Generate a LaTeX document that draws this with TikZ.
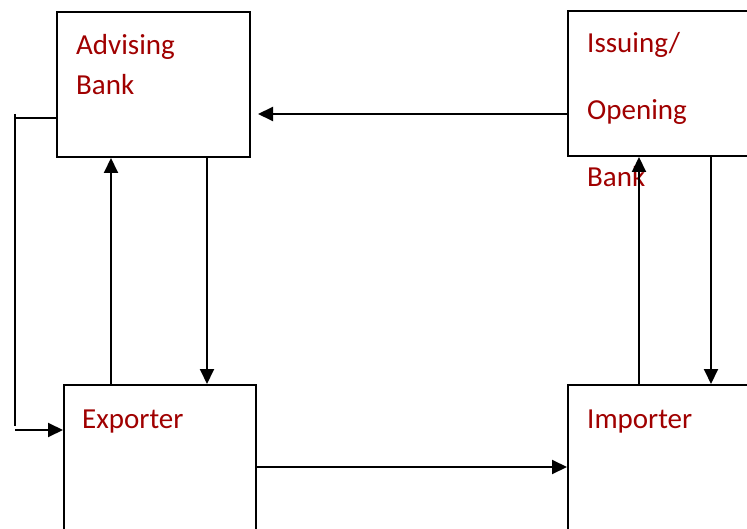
\documentclass[tikz,border=0pt]{standalone}
\usepackage{fontspec}
\setmainfont{Carlito}
\usetikzlibrary{arrows.meta}
\definecolor{lbl}{RGB}{160,0,0}
\begin{document}
\begin{tikzpicture}[x=1pt,y=-1pt,
  box/.style={draw=black,line width=2pt,inner sep=0pt,anchor=north west,fill=none},
  lab/.style={text=lbl,anchor=base west,inner sep=0pt,font=\fontsize{29}{40}\selectfont},
  arr/.style={draw=black,line width=2pt,-{Triangle[length=15pt,width=14pt]}},
  ln/.style={draw=black,line width=2pt}]
\clip (0,0) rectangle (747,529);
\fill[white] (0,0) rectangle (747,529);
\node[box,minimum width=193pt,minimum height=145pt] (adv) at (56,11) {};
\node[box,minimum width=200pt,minimum height=145pt] (iss) at (567,10) {};
\node[box,minimum width=192pt,minimum height=200pt] (exp) at (63,384) {};
\node[box,minimum width=200pt,minimum height=200pt] (imp) at (567,384) {};
\node[lab] (t1) at (76,55) {Advising};
\node[lab] (t2) at (76,95) {Bank};
\node[lab] (t3) at (587,53) {Issuing/};
\node[lab] (t4) at (587,120) {Opening};
\node[lab] (t5) at (587,187) {Bank};
\node[lab] (t6) at (82,428) {Exporter};
\node[lab] (t7) at (587,428) {Importer};
% connectors
\draw[arr,shorten >=7pt] (iss.west |- 0,114) -- (adv.east |- 0,114);
\draw[arr] (adv.south -| 207,0) -- (exp.north -| 207,0);
\draw[arr] (exp.north -| 111,0) -- (adv.south -| 111,0);
\draw[arr] (exp.east |- 0,467) -- (imp.west |- 0,467);
\draw[arr] (imp.north -| 639,0) -- (iss.south -| 639,0);
\draw[arr] (iss.south -| 711,0) -- (imp.north -| 711,0);
\coordinate (c1) at (15,118);
\coordinate (c2) at (15,430);
\draw[ln] (adv.west |- 0,118) -- (c1);
\draw[ln] (15,114) -- (15,426);
\draw[arr] (c2) -- (exp.west |- 0,430);
\end{tikzpicture}
\end{document}
